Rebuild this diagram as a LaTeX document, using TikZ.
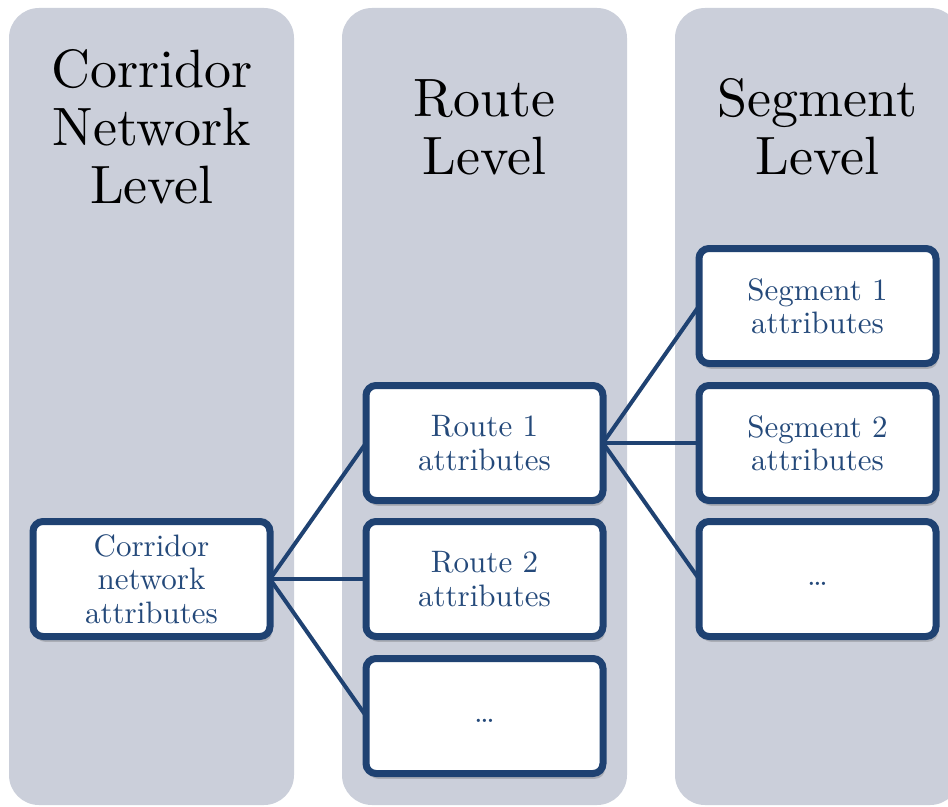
\documentclass[tikz,border=0pt]{standalone}
\usepackage{fontspec}
\setmainfont{lmroman10-regular}[Extension=.otf]
\usetikzlibrary{shadows}
\definecolor{colfill}{HTML}{CBCFDA}
\definecolor{boxline}{HTML}{1F4272}
\definecolor{boxtext}{HTML}{24497A}
\begin{document}
\begin{tikzpicture}[x=0.75pt,y=-0.75pt,
  column/.style={fill=colfill, rounded corners=22.5pt},
  header/.style={font=\fontsize{40.5pt}{43.5pt}\selectfont, align=center, anchor=base, text=black, inner sep=0pt},
  attrbox/.style={draw=boxline, line width=5.25pt, fill=white, rounded corners=7.5pt,
    minimum width=177.75pt, minimum height=86.25pt, align=center, text=boxtext,
    font=\fontsize{23.25pt}{25pt}\selectfont, inner sep=0pt, outer sep=0pt,
    drop shadow={shadow xshift=1.5pt, shadow yshift=-4pt, opacity=0.25, fill=black!70}},
  link/.style={draw=boxline, line width=3pt}]
\useasboundingbox (0,0) rectangle (948,806);
\clip (0,0) rectangle (948,806);
% columns
\fill[column] (9,8) rectangle (294,805);
\fill[column] (342,8) rectangle (627,805);
\fill[column] (675,8) rectangle (960,805);
% headers
\node[header] (h1) at (152,203) {Corridor\\Network\\Level};
\node[header] (h2) at (484.5,174) {Route\\Level};
\node[header] (h3) at (817.5,174) {Segment\\Level};
% boxes
\node[attrbox] (cn) at (151.5,579) {Corridor\\network\\attributes};
\node[attrbox] (r1) at (484.5,443) {Route 1\\attributes};
\node[attrbox] (r2) at (484.5,579) {Route 2\\attributes};
\node[attrbox] (r3) at (484.5,716) {\strut\ldots};
\node[attrbox] (s1) at (817.5,306) {Segment 1\\attributes};
\node[attrbox] (s2) at (817.5,443) {Segment 2\\attributes};
\node[attrbox] (s3) at (817.5,579) {\strut\ldots};
% connectors
\draw[link] (cn.east) -- (r1.west);
\draw[link] (cn.east) -- (r2.west);
\draw[link] (cn.east) -- (r3.west);
\draw[link] (r1.east) -- (s1.west);
\draw[link] (r1.east) -- (s2.west);
\draw[link] (r1.east) -- (s3.west);
\end{tikzpicture}
\end{document}
